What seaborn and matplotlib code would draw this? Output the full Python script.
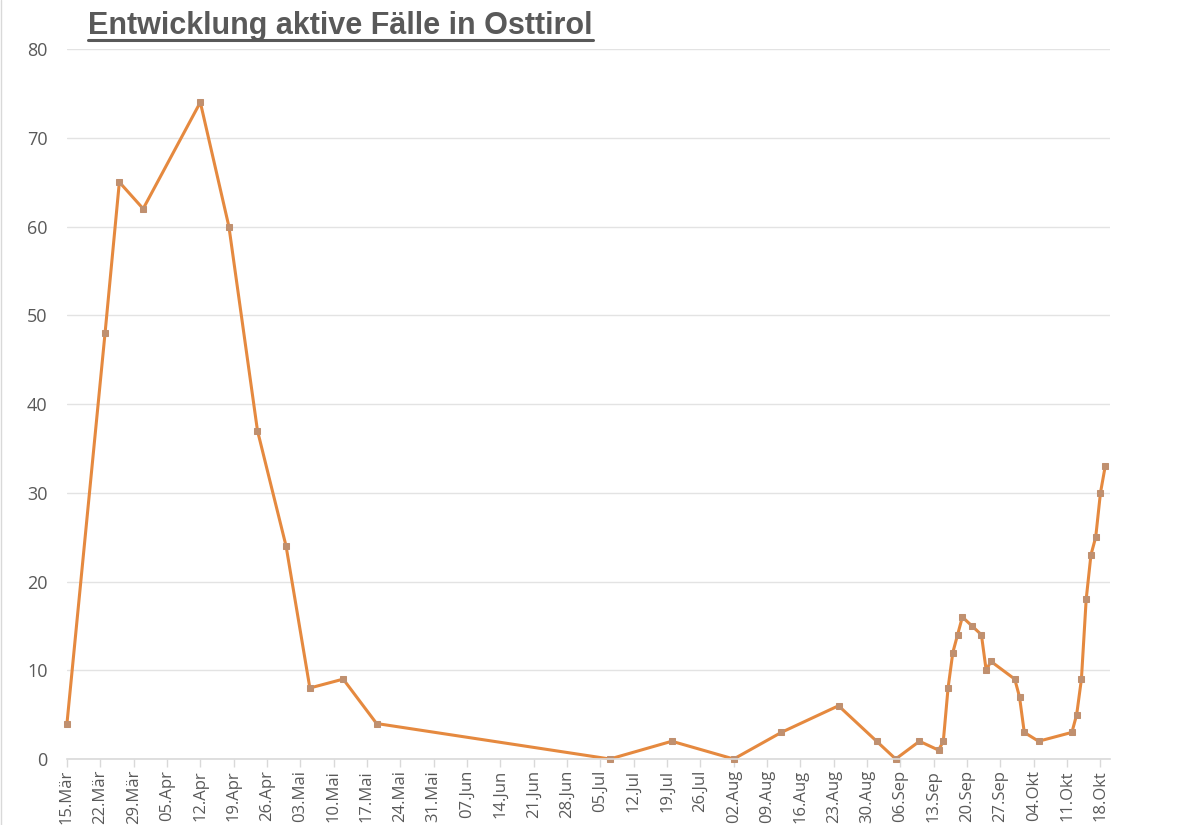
import matplotlib

matplotlib.use("Agg")
import matplotlib.pyplot as plt
import pandas as pd
import seaborn as sns
from matplotlib.lines import Line2D

# Data (year 2020)
dates = [
    "2020-03-15", "2020-03-23", "2020-03-26", "2020-03-31", "2020-04-12",
    "2020-04-18", "2020-04-24", "2020-04-30", "2020-05-05", "2020-05-12",
    "2020-05-19", "2020-07-07", "2020-07-20", "2020-08-02", "2020-08-12",
    "2020-08-24", "2020-09-01", "2020-09-05", "2020-09-10", "2020-09-14",
    "2020-09-15", "2020-09-16", "2020-09-17", "2020-09-18", "2020-09-19",
    "2020-09-21", "2020-09-23", "2020-09-24", "2020-09-25", "2020-09-30",
    "2020-10-01", "2020-10-02", "2020-10-05", "2020-10-12", "2020-10-13",
    "2020-10-14", "2020-10-15", "2020-10-16", "2020-10-17", "2020-10-18",
    "2020-10-19",
]
active_cases = [
    4, 48, 65, 62, 74,
    60, 37, 24, 8, 9,
    4, 0, 2, 0, 3,
    6, 2, 0, 2, 1,
    2, 8, 12, 14, 16,
    15, 14, 10, 11, 9,
    7, 3, 2, 3, 5,
    9, 18, 23, 25, 30,
    33,
]
month_names = ["Jan", "Feb", "Mär", "Apr", "Mai", "Jun",
               "Jul", "Aug", "Sep", "Okt", "Nov", "Dez"]
title = "Entwicklung aktive Fälle in Osttirol"

df = pd.DataFrame({"date": pd.to_datetime(dates), "cases": active_cases})

sns.set_theme(style="white")
plt.rcParams["font.family"] = ["Open Sans", "DejaVu Sans"]

fig = plt.figure(figsize=(12, 8.25), dpi=100)
ax = fig.add_axes([0.0558, 0.08, 0.8692, 0.8606])

sns.lineplot(
    data=df, x="date", y="cases", ax=ax,
    color="#e5893f", linewidth=2.2,
    marker="s", markersize=4.5,
    markerfacecolor="#c0906f", markeredgecolor="#c0906f",
)
for line in ax.lines:
    line.set_clip_on(False)

ax.set_ylim(0, 80)
ax.set_yticks(range(0, 81, 10))
ax.set_xlim(pd.Timestamp("2020-03-15"), pd.Timestamp("2020-10-20"))
ticks = pd.date_range("2020-03-15", "2020-10-18", freq="7D")
ax.set_xticks(ticks)
ax.set_xticklabels([f"{d.day:02d}.{month_names[d.month - 1]}" for d in ticks],
                   rotation=90)

ax.yaxis.grid(True, color="#e3e3e3", linewidth=1)
ax.xaxis.grid(False)
for side in ["top", "right", "left"]:
    ax.spines[side].set_visible(False)
ax.spines["bottom"].set_color("#d9d9d9")
ax.spines["bottom"].set_linewidth(1.2)
ax.tick_params(axis="x", bottom=True, length=6, width=1, color="#d9d9d9",
               labelsize=12, labelcolor="#595959", pad=2)
ax.tick_params(axis="y", left=False, labelsize=13, labelcolor="#595959", pad=8)
ax.set_xlabel("")
ax.set_ylabel("")

# Title, bold and underlined
t = fig.text(0.0735, 0.968, title, fontsize=22, fontweight="bold",
             color="#595959", family=["Liberation Sans", "DejaVu Sans"],
             ha="left", va="center")
fig.canvas.draw()
bb = t.get_window_extent().transformed(fig.transFigure.inverted())
fig.add_artist(Line2D([bb.x0, bb.x1], [bb.y0 + 0.002, bb.y0 + 0.002],
                      color="#595959", linewidth=2.2,
                      transform=fig.transFigure))

# thin frame line on the left edge
fig.add_artist(Line2D([0.001, 0.001], [0, 1], color="#d9d9d9", linewidth=1,
                      transform=fig.transFigure))

fig.savefig("out.png", dpi=100)
